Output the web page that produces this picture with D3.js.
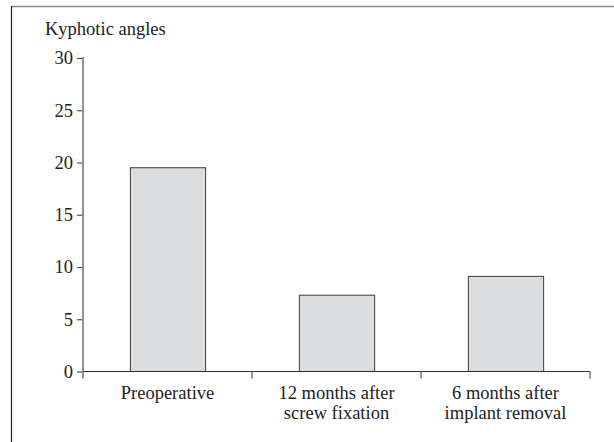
<!DOCTYPE html>
<html><head><meta charset="utf-8">
<script src="https://cdn.jsdelivr.net/npm/d3@7"></script>
<style>body{margin:0;background:#fff}svg{display:block}</style>
</head><body>
<script>
const categories = [["Preoperative"], ["12 months after", "screw fixation"], ["6 months after", "implant removal"]];
const values = [19.5, 7.3, 9.1];
const yTicks = [0, 5, 10, 15, 20, 25, 30];
const yTitle = "Kyphotic angles";

const W = 614, H = 442;
const svg = d3.select("body").append("svg").attr("width", W).attr("height", H);
const font = "'Liberation Serif', 'DejaVu Serif', serif";
const fs = 18.5;

// frame
svg.append("line").attr("x1", 11.5).attr("x2", W).attr("y1", 6.5).attr("y2", 6.5).attr("stroke", "#888").attr("stroke-width", 1.5);
svg.append("line").attr("x1", 11.5).attr("x2", 11.5).attr("y1", 6).attr("y2", H).attr("stroke", "#222").attr("stroke-width", 1.2);

const x0 = 83, x1 = 590, yTop = 58, yBot = 371.5;
const x = d3.scaleBand().domain(d3.range(categories.length)).range([x0, x1]).paddingInner(0.555).paddingOuter(0.2775);
const y = d3.scaleLinear().domain([0, 30]).range([yBot, yTop]);

// bars
svg.selectAll("rect.bar").data(values).join("rect")
  .attr("x", (d, i) => x(i) + 0.5).attr("width", x.bandwidth())
  .attr("y", d => y(d)).attr("height", d => yBot - y(d))
  .attr("fill", "#dcdddf").attr("stroke", "#4a4a4a").attr("stroke-width", 1.1);

// y axis
const yAxis = svg.append("g").attr("transform", `translate(${x0},0)`)
  .call(d3.axisLeft(y).tickValues(yTicks).tickSize(6).tickPadding(4));
yAxis.attr("font-size", null).attr("font-family", null);
yAxis.select(".domain").remove();
yAxis.selectAll(".tick line").attr("stroke", "#555").attr("stroke-width", 1.2);
yAxis.selectAll("text").style("font-family", font).style("font-size", fs + "px").attr("fill", "#222");
svg.append("line").attr("x1", x0).attr("x2", x0).attr("y1", yTop - 1).attr("y2", yBot + 7)
  .attr("stroke", "#888").attr("stroke-width", 1.8);

// x axis
svg.append("line").attr("x1", x0).attr("x2", x1 + 0.5).attr("y1", yBot).attr("y2", yBot).attr("stroke", "#333").attr("stroke-width", 1.2);
const bounds = d3.range(categories.length + 1).map(i => x0 + (x1 - x0) * i / categories.length);
svg.selectAll("line.xt").data(bounds.slice(1)).join("line")
  .attr("x1", d => d).attr("x2", d => d).attr("y1", yBot).attr("y2", yBot + 7)
  .attr("stroke", "#777").attr("stroke-width", 1.5);

// category labels
categories.forEach((lines, i) => {
  const cx = x(i) + x.bandwidth() / 2;
  const t = svg.append("text").attr("x", cx).attr("y", 399).attr("text-anchor", "middle")
    .style("font-family", font).style("font-size", fs + "px").attr("fill", "#222");
  lines.forEach((l, j) => t.append("tspan").attr("x", cx).attr("dy", j === 0 ? 0 : 20).text(l));
});

// y title
svg.append("text").attr("x", 45).attr("y", 35).style("font-family", font).style("font-size", fs + "px").attr("fill", "#222").text(yTitle);
</script>
</body></html>
